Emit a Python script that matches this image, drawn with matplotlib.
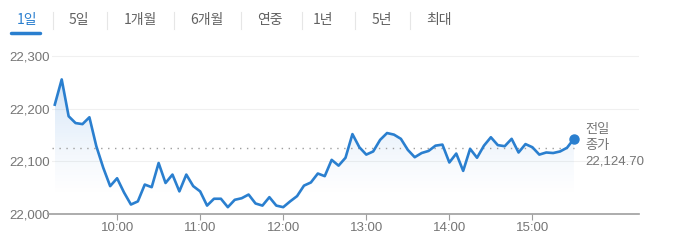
import matplotlib
matplotlib.use("Agg")
import matplotlib.pyplot as plt
import matplotlib.dates as mdates
import numpy as np
import pandas as pd

plt.rcParams['font.family'] = ['Liberation Sans', 'Noto Sans CJK KR', 'DejaVu Sans']

# 5-minute intraday closes, 09:15 - 15:30
times = pd.date_range("2024-01-01 09:15", "2024-01-01 15:30", freq="5min")
prices = [
    22208, 22256, 22186, 22173, 22171, 22184, 22129, 22088, 22053, 22068,
    22041, 22018, 22024, 22056, 22051, 22097, 22059, 22075, 22043, 22075,
    22053, 22043, 22016, 22029, 22029, 22013, 22027, 22030, 22037, 22020,
    22016, 22032, 22016, 22013, 22024, 22034, 22054, 22060, 22077, 22072,
    22103, 22092, 22107, 22152, 22127, 22113, 22119, 22141, 22154, 22151,
    22143, 22122, 22108, 22116, 22120, 22130, 22132, 22098, 22115, 22082,
    22124, 22107, 22130, 22146, 22131, 22129, 22143, 22117, 22133, 22127,
    22113, 22117, 22116, 22119, 22126, 22143,
]
prev_close = 22124.70
y_ticks = [22000, 22100, 22200, 22300]
x_ticks = ["10:00", "11:00", "12:00", "13:00", "14:00", "15:00"]
tabs = ["1일", "5일", "1개월", "6개월", "연중", "1년", "5년", "최대"]

blue = "#2a7fcf"
grey = "#757575"

fig = plt.figure(figsize=(6.8, 2.47), dpi=100)
ax = fig.add_axes([0.0765, 0.1336, 0.8632, 0.664])

x = mdates.date2num(times.to_pydatetime())
y = np.array(prices, dtype=float)

day = pd.Timestamp("2024-01-01")
xlim = (mdates.date2num(day + pd.Timedelta(minutes=553)),
        mdates.date2num(day + pd.Timedelta(minutes=977)))

# gradient fill under the line
poly = ax.fill_between(x, y, 22000, color="none", lw=0)
rgba = np.zeros((256, 1, 4))
rgba[..., 0] = 0.16
rgba[..., 1] = 0.50
rgba[..., 2] = 0.85
rgba[..., 3] = np.linspace(0.30, 0.0, 256).reshape(-1, 1) ** 1.3
img = ax.imshow(rgba, aspect="auto", extent=[x[0], x[-1], 22030, 22260],
                origin="upper", zorder=1)
img.set_clip_path(poly.get_paths()[0], transform=ax.transData)
ax.set_xlim(*xlim)
ax.set_ylim(22000, 22312)

ax.plot(x, y, color=blue, lw=1.9, zorder=3)
ax.plot(x[-1], y[-1], "o", color=blue, ms=6.5, zorder=4)
ax.axhline(prev_close, xmax=(x[-1] - xlim[0]) / (xlim[1] - xlim[0]),
           color="#9e9e9e", lw=1, ls=(0, (1, 4)), zorder=2)

for v in y_ticks[1:]:
    ax.axhline(v, color="#f0f0f0", lw=0.8, zorder=0)

ax.text(x[-1] + 0.0055, prev_close + 5, "전일\n종가\n22,124.70", color=grey,
        fontsize=9.5, va="center", ha="left", linespacing=1.45)

for s in ["top", "right", "left"]:
    ax.spines[s].set_visible(False)
ax.spines["bottom"].set_color("#9e9e9e")
ax.spines["bottom"].set_linewidth(1.2)
ax.spines["bottom"].set_bounds(xlim[0] - 0.002, xlim[1])
ax.spines["bottom"].set_clip_on(False)

ax.set_yticks(y_ticks)
ax.set_yticklabels([f"{v:,}" for v in y_ticks], color=grey, fontsize=9.5)
for lab in ax.get_yticklabels():
    lab.set_horizontalalignment("left")
ax.tick_params(axis="y", length=0, pad=31)
tick_pos = [mdates.date2num(pd.Timestamp("2024-01-01 " + t)) for t in x_ticks]
ax.set_xticks(tick_pos)
ax.set_xticklabels(x_ticks, color=grey, fontsize=9.5)
ax.tick_params(axis="x", length=4, color="#9e9e9e", pad=2)

# tabs
tab_x = [27, 79, 140, 207, 270, 323, 382, 439]
sep_x = [53, 107, 174, 241, 302, 355, 410]
for t, px in zip(tabs, tab_x):
    fig.text(px / 680, 1 - 20 / 247, t, ha="center", va="center", fontsize=10,
             color=blue if t == "1일" else "#616161",
             family=['Noto Sans CJK KR', 'DejaVu Sans'])
for px in sep_x:
    fig.add_artist(plt.Line2D([px / 680, px / 680], [1 - 12 / 247, 1 - 29 / 247],
                              color="#e6e6e6", lw=0.8))
fig.add_artist(plt.Line2D([11 / 680, 40 / 680], [1 - 33 / 247, 1 - 33 / 247],
                          color=blue, lw=2.5, solid_capstyle="round"))

fig.savefig("out.png", dpi=100)
